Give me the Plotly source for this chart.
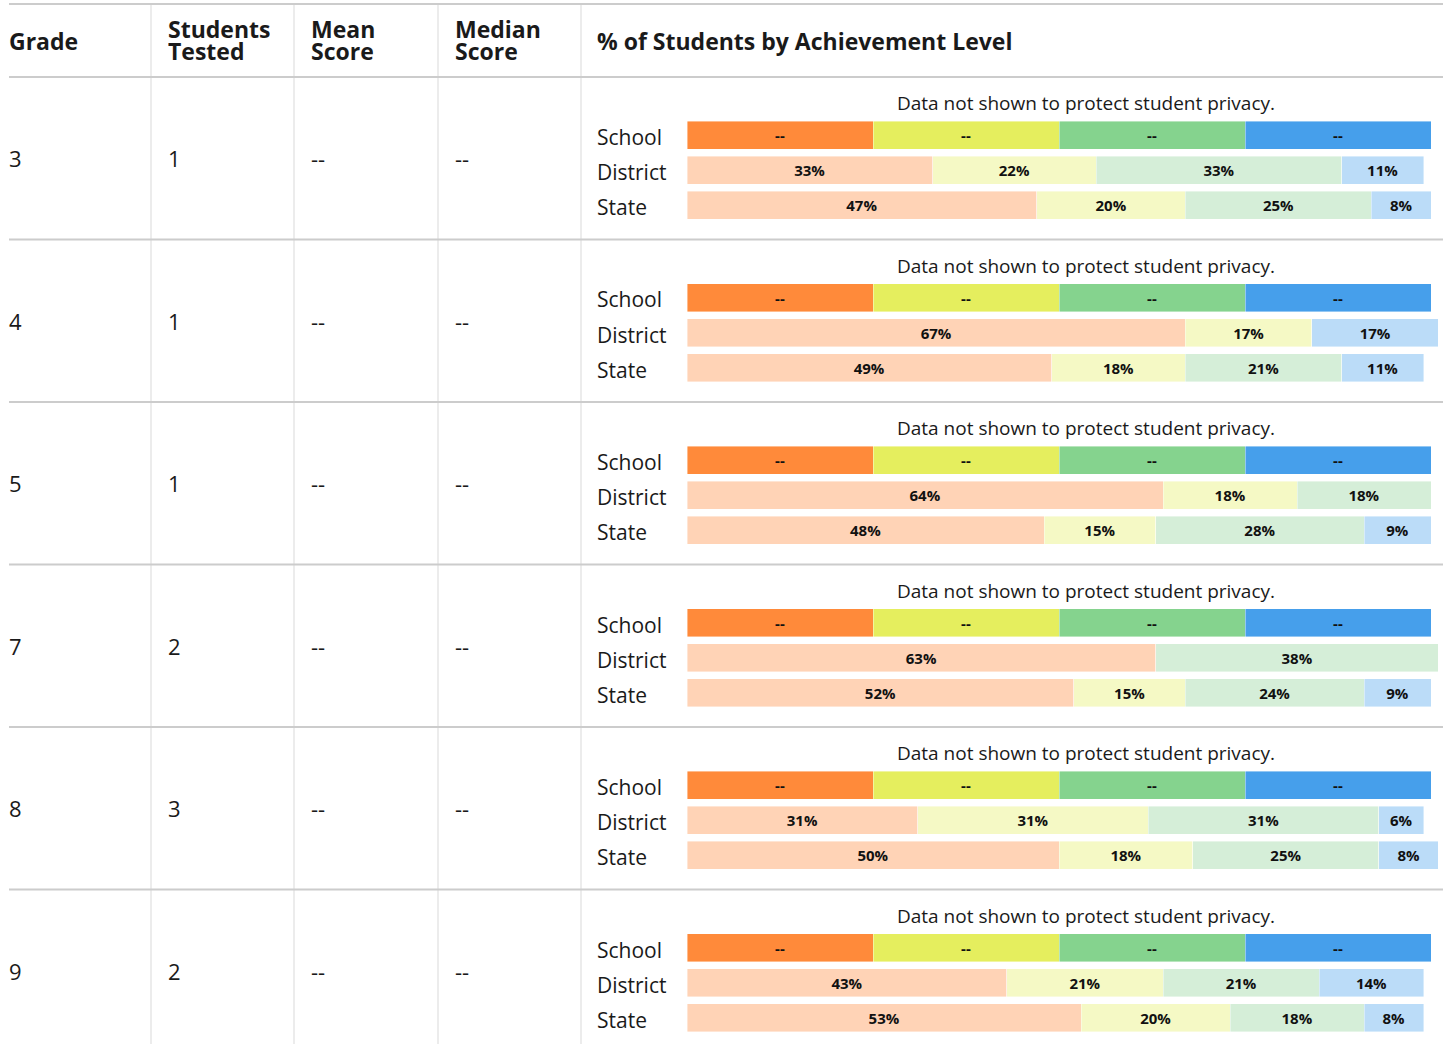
import plotly.graph_objects as go

# ---------------- data ----------------
grades = ["3", "4", "5", "7", "8", "9"]
students_tested = ["1", "1", "1", "2", "3", "2"]
mean_score = ["--", "--", "--", "--", "--", "--"]
median_score = ["--", "--", "--", "--", "--", "--"]

groups = ["School", "District", "State"]
levels = ["Level 1", "Level 2", "Level 3", "Level 4"]

# School values are suppressed (privacy) -> shown as equal placeholder segments with "--"
school_placeholder = [25, 25, 25, 25]
school_label = "--"

# District % by level, per grade (None = no segment)
district_l1 = [33, 67, 64, 63, 31, 43]
district_l2 = [22, 17, 18, None, 31, 21]
district_l3 = [33, None, 18, 38, 31, 21]
district_l4 = [11, 17, None, None, 6, 14]

# State % by level, per grade
state_l1 = [47, 49, 48, 52, 50, 53]
state_l2 = [20, 18, 15, 15, 18, 20]
state_l3 = [25, 21, 28, 24, 25, 18]
state_l4 = [8, 11, 9, 9, 8, 8]

privacy_note = "Data not shown to protect student privacy."
header_cols = [["Grade"], ["Students", "Tested"], ["Mean", "Score"], ["Median", "Score"],
               ["% of Students by Achievement Level"]]

# ---------------- styling / layout ----------------
W, H = 1443, 1044
FONT = "Open Sans"
TXT = "#1a1a1a"
strong_colors = ["#FF8A3A", "#E5EE5E", "#85D38E", "#469FEB"]
light_colors = ["#FFD3B6", "#F5F9C5", "#D5EED8", "#BBDCF8"]

col_x = [7, 166, 309, 453, 595]
vlines = [151, 294, 438, 581]
top_line = 4
header_bottom = 77
row_h = 162.5
bar_left = 687
px_per_pct = 7.44
xmax = (W - bar_left) / px_per_pct


def py(p):
    return 1 - p / H


def px(p):
    return p / W


district = [district_l1, district_l2, district_l3, district_l4]
state = [state_l1, state_l2, state_l3, state_l4]

fig = go.Figure()
layout_axes = {}
annotations = []
shapes = []

for k, g in enumerate(grades):
    ax = "" if k == 0 else str(k + 1)
    row_top = header_bottom + k * row_h
    school_c = row_top + 58
    dom_top = school_c - 17.5
    dom_bot = school_c + 17.5 + 2 * 35
    for j in range(4):
        dv = district[j][k]
        sv = state[j][k]
        fig.add_trace(go.Bar(
            orientation="h",
            y=groups,
            x=[school_placeholder[j], dv, sv],
            text=[school_label, "" if dv is None else f"{dv}%", "" if sv is None else f"{sv}%"],
            textposition="inside",
            insidetextanchor="middle",
            textangle=0,
            textfont=dict(family=FONT, size=15, color="#111111", weight="bold"),
            marker=dict(color=[strong_colors[j], light_colors[j], light_colors[j]],
                        line=dict(color="rgba(255,255,255,0.7)", width=0.6)),
            name=levels[j],
            showlegend=False,
            hoverinfo="skip",
            xaxis="x" + ax,
            yaxis="y" + ax,
        ))
    layout_axes["xaxis" + ax] = dict(domain=[px(bar_left), 1], range=[0, xmax], visible=False,
                                     fixedrange=True, anchor="y" + ax)
    layout_axes["yaxis" + ax] = dict(domain=[py(dom_bot), py(dom_top)], type="category",
                                     categoryorder="array", categoryarray=groups,
                                     autorange="reversed", visible=False, fixedrange=True,
                                     anchor="x" + ax)

    # row text
    row_c = row_top + row_h / 2
    for cx, val in zip(col_x[:4], [g, students_tested[k], mean_score[k], median_score[k]]):
        annotations.append(dict(x=px(cx), y=py(row_c), xref="paper", yref="paper", text=val,
                                showarrow=False, xanchor="left", yanchor="middle",
                                font=dict(family=FONT, size=22, color=TXT)))
    annotations.append(dict(x=px(1086), y=py(row_top + 26), xref="paper", yref="paper",
                            text=privacy_note, showarrow=False, xanchor="center", yanchor="middle",
                            font=dict(family=FONT, size=19, color=TXT)))
    for i, gname in enumerate(groups):
        annotations.append(dict(x=px(col_x[4]), y=py(school_c + 2 + i * 35), xref="paper",
                                yref="paper", text=gname, showarrow=False, xanchor="left",
                                yanchor="middle", font=dict(family=FONT, size=21, color=TXT)))
    # row separator
    if k > 0:
        shapes.append(dict(type="line", xref="paper", yref="paper", x0=px(9), x1=1,
                           y0=py(row_top), y1=py(row_top), line=dict(color="#cccccc", width=2)))

# header
for cx, lines in zip(col_x, header_cols):
    if len(lines) == 1:
        annotations.append(dict(x=px(cx), y=py(41), xref="paper", yref="paper",
                                text="<b>%s</b>" % lines[0], showarrow=False, xanchor="left",
                                yanchor="middle", font=dict(family=FONT, size=23, color=TXT)))
    else:
        for li, t in enumerate(lines):
            annotations.append(dict(x=px(cx), y=py(28 + li * 23), xref="paper", yref="paper",
                                    text="<b>%s</b>" % t, showarrow=False, xanchor="left",
                                    yanchor="middle", height=21, valign="middle",
                                    font=dict(family=FONT, size=23, color=TXT)))

shapes.append(dict(type="line", xref="paper", yref="paper", x0=px(9), x1=1,
                   y0=py(top_line), y1=py(top_line), line=dict(color="#cccccc", width=2)))
shapes.append(dict(type="line", xref="paper", yref="paper", x0=px(9), x1=1,
                   y0=py(header_bottom), y1=py(header_bottom), line=dict(color="#cccccc", width=2)))
for vx in vlines:
    shapes.append(dict(type="line", xref="paper", yref="paper", x0=px(vx), x1=px(vx),
                       y0=0, y1=py(top_line), line=dict(color="#e6e6e6", width=1.5), layer="below"))

fig.update_layout(
    width=W, height=H,
    margin=dict(l=0, r=0, t=0, b=0),
    paper_bgcolor="white", plot_bgcolor="rgba(0,0,0,0)",
    barmode="stack", bargap=0.2,
    annotations=annotations, shapes=shapes,
    showlegend=False,
    **layout_axes,
)

fig.write_html("out.html", config={"displayModeBar": False},
               post_script="document.body.style.margin='0';document.body.style.overflow='hidden';")
